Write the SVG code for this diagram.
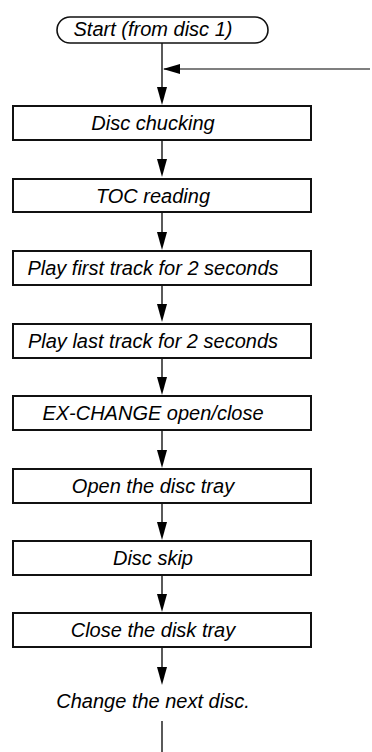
<svg xmlns="http://www.w3.org/2000/svg" width="372" height="752" viewBox="0 0 372 752">
<style>
.box{fill:#fff;stroke:#111;stroke-width:2}
.term{fill:#fff;stroke:#111;stroke-width:1.6}
.t{font-family:"Liberation Sans",Arial,sans-serif;font-style:italic;font-size:20px;fill:#000;text-anchor:middle}
.ln{stroke:#000;stroke-width:1.3;fill:none}
.ah{fill:#000}
</style>
<rect width="372" height="752" fill="#fff"/>
<g id="connectors">
<line class="ln" x1="162" y1="43" x2="162" y2="90"/>
<polygon class="ah" points="157,87 167,87 162,105"/>
<line x1="164" y1="69" x2="370" y2="69" stroke="#555" stroke-width="1.3"/>
<polygon class="ah" points="163,69 180,64 180,74"/>
<line class="ln" x1="162" y1="140" x2="162" y2="162"/>
<polygon class="ah" points="157,159 167,159 162,177"/>
<line class="ln" x1="162" y1="212" x2="162" y2="235"/>
<polygon class="ah" points="157,232 167,232 162,250"/>
<line class="ln" x1="162" y1="285" x2="162" y2="307"/>
<polygon class="ah" points="157,304 167,304 162,322"/>
<line class="ln" x1="162" y1="358" x2="162" y2="380"/>
<polygon class="ah" points="157,377 167,377 162,395"/>
<line class="ln" x1="162" y1="430" x2="162" y2="453"/>
<polygon class="ah" points="157,450 167,450 162,468"/>
<line class="ln" x1="162" y1="503" x2="162" y2="525"/>
<polygon class="ah" points="157,522 167,522 162,540"/>
<line class="ln" x1="162" y1="575" x2="162" y2="597"/>
<polygon class="ah" points="157,594 167,594 162,612"/>
<line class="ln" x1="162" y1="647" x2="162" y2="670"/>
<polygon class="ah" points="157,667 167,667 162,685"/>
<line class="ln" x1="162" y1="721" x2="162" y2="752"/>
</g>
<g id="start">
<rect class="term" x="57" y="17" width="211" height="26" rx="13"/>
<text class="t" x="153" y="36">Start (from disc 1)</text>
</g>
<g id="n1">
<rect class="box" x="13" y="106" width="298" height="34"/>
<text class="t" x="153" y="130">Disc chucking</text>
</g>
<g id="n2">
<rect class="box" x="13" y="179" width="298" height="33"/>
<text class="t" x="153" y="203">TOC reading</text>
</g>
<g id="n3">
<rect class="box" x="13" y="251" width="298" height="34"/>
<text class="t" x="153" y="275">Play first track for 2 seconds</text>
</g>
<g id="n4">
<rect class="box" x="13" y="324" width="298" height="34"/>
<text class="t" x="153" y="348">Play last track for 2 seconds</text>
</g>
<g id="n5">
<rect class="box" x="13" y="396" width="298" height="34"/>
<text class="t" x="153" y="420">EX-CHANGE open/close</text>
</g>
<g id="n6">
<rect class="box" x="13" y="469" width="298" height="34"/>
<text class="t" x="153" y="493">Open the disc tray</text>
</g>
<g id="n7">
<rect class="box" x="13" y="541" width="298" height="34"/>
<text class="t" x="153" y="565">Disc skip</text>
</g>
<g id="n8">
<rect class="box" x="13" y="613" width="298" height="34"/>
<text class="t" x="153" y="637">Close the disk tray</text>
</g>
<g id="n9">
<text class="t" x="153" y="708">Change the next disc.</text>
</g>
</svg>
